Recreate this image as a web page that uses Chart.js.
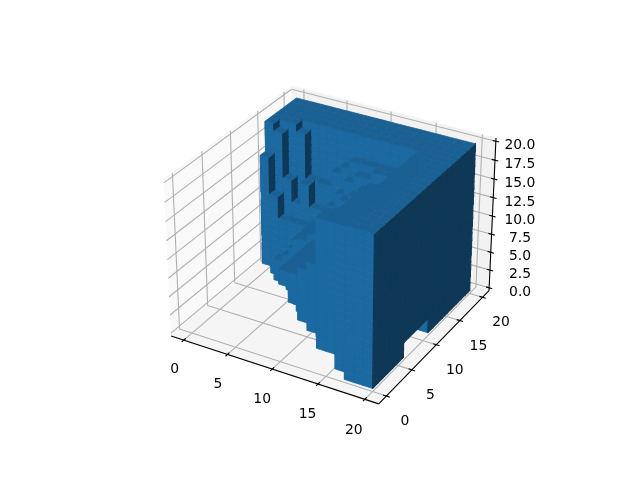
<!DOCTYPE html>
<html>
<head>
<meta charset="utf-8">
<style>
  html, body { margin: 0; padding: 0; background: #fff; }
</style>
<script src="https://cdn.jsdelivr.net/npm/chart.js@4/dist/chart.umd.js"></script>
</head>
<body>
<canvas id="voxels" width="640" height="480"></canvas>
<script>
// axis ticks
const xTicks = [0, 5, 10, 15, 20];
const yTicks = [0, 5, 10, 15, 20];
const zTicks = [0, 2.5, 5, 7.5, 10, 12.5, 15, 17.5, 20];

// first filled y for each x, one row per z layer (top layer first)
const layer19 = [14,15,15,16,16,16,16,16,16,16,16,16,16,16,0,0,0,0,0,0];
const layer18 = [14,14,15,15,16,16,16,16,16,16,16,16,16,16,0,0,0,0,0,0];
const layer17 = [14,14,15,15,16,16,16,16,16,16,16,16,16,16,0,0,0,0,0,0];
const layer16 = [14,14,15,15,16,16,16,16,16,15,15,15,14,14,0,0,0,0,0,0];
const layer15 = [13,14,15,15,16,16,16,16,15,15,14,14,14,4,0,0,0,0,0,0];
const layer14 = [13,14,15,15,16,16,16,15,15,14,14,13,5,4,0,0,0,0,0,0];
const layer13 = [13,14,15,15,16,16,16,15,15,14,13,5,5,0,0,0,0,0,0,0];
const layer12 = [13,14,14,15,14,15,15,15,14,13,6,5,0,0,0,0,0,0,0,0];
const layer11 = [13,14,14,15,14,15,15,15,14,7,0,0,0,0,0,0,0,0,0,0];
const layer10 = [13,13,14,15,14,15,15,14,7,7,0,0,0,0,0,0,0,0,0,0];
const layer9  = [13,13,14,14,14,14,14,8,7,7,6,0,0,0,0,0,0,0,0,0];
const layer8  = [13,13,14,14,14,14,9,8,7,7,6,0,0,0,0,0,0,0,0,0];
const layer7  = [13,13,13,13,13,13,9,8,7,7,6,5,0,0,0,0,0,0,0,0];
const layer6  = [13,13,13,13,13,10,9,8,7,7,6,5,0,0,0,0,0,0,0,0];
const layer5  = [13,13,13,13,13,10,9,8,7,7,6,5,5,0,0,0,0,0,0,0];
const layer4  = [13,13,13,13,11,10,9,8,7,7,6,5,5,4,0,0,0,0,0,0];
const layer3  = [13,13,13,12,11,10,9,8,7,7,6,5,5,4,0,0,0,0,0,0];
const layer2  = [13,13,12,12,11,10,9,8,7,7,6,5,5,4,4,3,0,0,0,0];
const layer1  = [13,13,12,12,11,10,9,8,7,7,6,5,5,4,4,3,0,0,0,0];
const layer0  = [20,13,12,12,11,10,9,8,7,7,6,5,5,4,4,3,2,0,0,0];
const layers = [layer0, layer1, layer2, layer3, layer4, layer5, layer6, layer7, layer8, layer9,
    layer10, layer11, layer12, layer13, layer14, layer15, layer16, layer17, layer18, layer19];

// notch cut out of the bottom along y
const notchY = [6, 7, 8, 9, 10];
const notchHeight = [2, 2, 2, 2, 2];

// shallow pocket under the top face behind the flat front
const pocketX = [14, 15];
const pocketFromY = [2, 8];
const pocketToY = 16;
const pocketFromZ = 17;

const topColor = '#1a6093';
const frontColor = '#1b69a0';
const sideColor = '#0f3857';

// same view as a default mplot3d axes
const xlim = [-1.4583, 21.4583], ylim = [-1.4583, 21.4583], zlim = [-0.4167, 20.4167];
const boxScale = 1.8294640721620434 * 25 / 24 / Math.hypot(4, 4, 3);
const box = [4 * boxScale, 4 * boxScale, 3 * boxScale];
const elev = 30 * Math.PI / 180, azim = -60 * Math.PI / 180;
const w = [Math.cos(elev) * Math.cos(azim), Math.cos(elev) * Math.sin(azim), Math.sin(elev)];
const u = [-Math.sin(azim), Math.cos(azim), 0];
const v = [w[1] * u[2] - w[2] * u[1], w[2] * u[0] - w[0] * u[2], w[0] * u[1] - w[1] * u[0]];

function project(x, y, z) {
    const px = ((x - xlim[0]) / (xlim[1] - xlim[0]) - 0.5) * box[0] - 10 * w[0];
    const py = ((y - ylim[0]) / (ylim[1] - ylim[0]) - 0.5) * box[1] - 10 * w[1];
    const pz = ((z - zlim[0]) / (zlim[1] - zlim[0]) - 0.5) * box[2] - 10 * w[2];
    const depth = -(w[0] * px + w[1] * py + w[2] * pz);
    const sx = (u[0] * px + u[1] * py + u[2] * pz) / depth;
    const sy = (v[0] * px + v[1] * py + v[2] * pz) / depth;
    // view limits of the 3d axes mapped into the square axes box
    return { x: 143.2 + (sx + 0.095) / 0.185 * 369.6, y: 427.2 - (sy + 0.095) / 0.185 * 369.6 };
}

const datasets = [];

function addPolygon(corners, color, edge) {
    datasets.push({
        data: corners.concat([corners[0]]).map(c => project(c[0], c[1], c[2])),
        showLine: true, fill: 'shape', backgroundColor: color,
        borderColor: color, borderWidth: edge || 0, pointRadius: 0
    });
}

function addLine(from, to, color, width) {
    datasets.push({
        data: [project(from[0], from[1], from[2]), project(to[0], to[1], to[2])],
        showLine: true, fill: false, borderColor: color, borderWidth: width, pointRadius: 0
    });
}

const [x0, x1] = xlim, [y0, y1] = ylim, [z0, z1] = zlim;

// panes
addPolygon([[x0, y0, z0], [x0, y1, z0], [x0, y1, z1], [x0, y0, z1]], '#f9f9f9');
addPolygon([[x0, y1, z0], [x1, y1, z0], [x1, y1, z1], [x0, y1, z1]], '#f2f2f2');
addPolygon([[x0, y0, z0], [x1, y0, z0], [x1, y1, z0], [x0, y1, z0]], '#f5f5f5');

// pane edges
const paneEdge = '#f4f4f4';
addLine([x0, y0, z1], [x0, y1, z1], paneEdge, 1);
addLine([x0, y1, z1], [x1, y1, z1], paneEdge, 1);

// grid
const gridColor = '#b0b0b0';
xTicks.forEach(t => {
    addLine([t, y0, z0], [t, y1, z0], gridColor, 1.1);
    addLine([t, y1, z0], [t, y1, z1], gridColor, 1.1);
});
yTicks.forEach(t => {
    addLine([x1, t, z0], [x0, t, z0], gridColor, 1.1);
    addLine([x0, t, z0], [x0, t, z1], gridColor, 1.1);
});
zTicks.forEach(t => {
    addLine([x0, y0, t], [x0, y1, t], gridColor, 1.1);
    addLine([x0, y1, t], [x1, y1, t], gridColor, 1.1);
});

// axis lines and ticks
const axisColor = '#000000';
addLine([x0, y0, z0], [x1, y0, z0], axisColor, 1.1);
addLine([x1, y0, z0], [x1, y1, z0], axisColor, 1.1);
addLine([x1, y1, z0], [x1, y1, z1], axisColor, 1.1);
const tickSize = 0.35;
xTicks.forEach(t => addLine([t, y0 + tickSize, z0], [t, y0 - tickSize, z0], axisColor, 1.1));
yTicks.forEach(t => addLine([x1 - tickSize, t, z0], [x1 + tickSize, t, z0], axisColor, 1.1));
zTicks.forEach(t => addLine([x1 - tickSize, y1, t], [x1 + tickSize, y1, t], axisColor, 1.1));

// voxels, back to front
function filled(x, y, z) {
    if (x < 0 || x > 19 || y < 0 || y > 19 || z < 0 || z > 19) return false;
    const n = notchY.indexOf(y);
    if (n >= 0 && z < notchHeight[n] && x >= 14) return false;
    const p = pocketX.indexOf(x);
    if (p >= 0 && z >= pocketFromZ && y >= pocketFromY[p] && y < pocketToY) return false;
    return y >= layers[z][x];
}

const seam = 0.75, sideSeam = 1.1;
for (let y = 19; y >= 0; y--) {
    for (let x = 0; x < 20; x++) {
        for (let z = 0; z < 20; z++) {
            if (!filled(x, y, z)) continue;
            if (!filled(x, y - 1, z)) {
                addPolygon([[x, y, z], [x + 1, y, z], [x + 1, y, z + 1], [x, y, z + 1]], frontColor, seam);
            }
            if (!filled(x + 1, y, z)) {
                addPolygon([[x + 1, y, z], [x + 1, y + 1, z], [x + 1, y + 1, z + 1], [x + 1, y, z + 1]], sideColor, sideSeam);
            }
            if (!filled(x, y, z + 1)) {
                addPolygon([[x, y, z + 1], [x + 1, y, z + 1], [x + 1, y + 1, z + 1], [x, y + 1, z + 1]], topColor, seam);
            }
        }
    }
}

const tickLabels = {
    id: 'tickLabels',
    afterDraw(chart) {
        const { ctx, scales } = chart;
        ctx.save();
        ctx.fillStyle = '#000';
        ctx.font = '13.9px "DejaVu Sans"';
        ctx.textAlign = 'center';
        ctx.textBaseline = 'middle';
        const put = (text, p, dx, dy) => {
            ctx.fillText(text, scales.x.getPixelForValue(p.x) + dx, scales.y.getPixelForValue(p.y) + dy);
        };
        xTicks.forEach(t => put(String(t), project(t, y0, z0), -9 - 0.1 * t, 29 + 0.1 * t));
        yTicks.forEach(t => put(String(t), project(x1, t, z0), 18.5, 25.5));
        zTicks.forEach(t => put(t.toFixed(1), project(x1, y1, t), 31 - 0.35 * t, 4.5));
        ctx.restore();
    }
};

new Chart(document.getElementById('voxels'), {
    type: 'scatter',
    data: { datasets: datasets.reverse() },
    plugins: [tickLabels],
    options: {
        responsive: false,
        animation: false,
        events: [],
        layout: { padding: 0 },
        plugins: { legend: { display: false }, tooltip: { enabled: false } },
        scales: {
            x: { type: 'linear', min: 0, max: 640, display: false },
            y: { type: 'linear', min: 0, max: 480, reverse: true, display: false }
        }
    }
});
</script>
</body>
</html>
